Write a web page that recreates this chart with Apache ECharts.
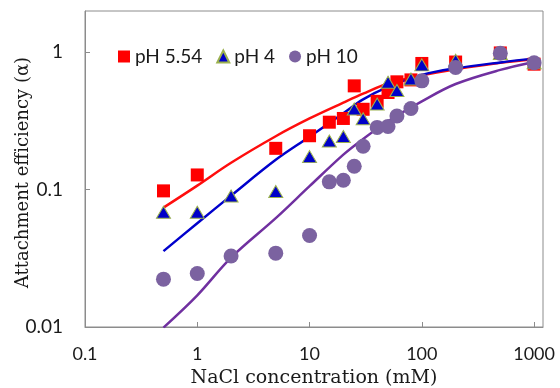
<!DOCTYPE html>
<html>
<head>
<meta charset="utf-8">
<script src="https://cdn.jsdelivr.net/npm/echarts@6/dist/echarts.min.js"></script>
<style>
html,body{margin:0;padding:0;background:#fff;}
#chart{width:560px;height:388px;}
</style>
</head>
<body>
<div id="chart"></div>
<script>
// Measured points (NaCl mM vs attachment efficiency)
const naclRed = [0.5, 1, 5, 10, 15, 20, 25, 30, 40, 50, 60, 80, 100, 200, 500, 1000];
const alphaRed = [0.098, 0.128, 0.20, 0.247, 0.31, 0.33, 0.57, 0.385, 0.44, 0.51, 0.61, 0.63, 0.83, 0.85, 0.99, 0.82];

const naclBlue = [0.5, 1, 2, 5, 10, 15, 20, 25, 30, 40, 50, 60, 80, 100, 200, 500, 1000];
const alphaBlue = [0.0685, 0.0685, 0.09, 0.097, 0.174, 0.226, 0.244, 0.387, 0.328, 0.42, 0.605, 0.528, 0.64, 0.81, 0.875, 0.98, 0.84];

const naclPurple = [0.5, 1, 2, 5, 10, 15, 20, 25, 30, 40, 50, 60, 80, 100, 200, 500, 1000];
const alphaPurple = [0.0223, 0.0245, 0.0329, 0.0345, 0.0464, 0.114, 0.117, 0.148, 0.207, 0.284, 0.289, 0.344, 0.39, 0.62, 0.775, 0.985, 0.84];

// Fitted curves
const fitX = [0.5, 1, 2, 5, 10, 20, 30, 50, 100, 200, 500, 1000];
const fitRed = [0.074, 0.107, 0.157, 0.245, 0.33, 0.43, 0.50, 0.593, 0.68, 0.752, 0.838, 0.89];
const fitBlue = [0.0357, 0.057, 0.0905, 0.165, 0.243, 0.36, 0.454, 0.56, 0.685, 0.765, 0.845, 0.90];
const fitPurple = [0.0099, 0.017, 0.032, 0.062, 0.106, 0.18, 0.234, 0.315, 0.44, 0.588, 0.745, 0.85];

const xTicks = [0.1, 1, 10, 100, 1000];
const yTicks = [0.01, 0.1, 1];
const legendNames = ['pH 5.54', 'pH 4', 'pH 10'];

const zip = (xs, ys) => xs.map((x, i) => [x, ys[i]]);

const chart = echarts.init(document.getElementById('chart'), null, {renderer: 'canvas'});
const sansFont = 'Lato, "Open Sans", sans-serif';
const serifFont = '"DejaVu Serif", "Liberation Serif", serif';

const fmt = ticks => v => {
  const t = ticks.find(k => Math.abs(Math.log10(k) - Math.log10(v)) < 1e-6);
  return t === undefined ? '' : String(t);
};

chart.setOption({
  animation: false,
  backgroundColor: '#ffffff',
  grid: {left: 85, right: 17, top: 11, bottom: 61, show: true, borderColor: '#8c8c8c', borderWidth: 1,
         containLabel: false, outerBoundsMode: 'none'},
  legend: {
    data: [
      {name: legendNames[0], icon: 'rect'},
      {name: legendNames[1], icon: 'triangle'},
      {name: legendNames[2], icon: 'circle'}
    ],
    left: 113, top: 42,
    itemWidth: 12, itemHeight: 12, itemGap: 14,
    textStyle: {fontFamily: sansFont, fontSize: 19, color: '#1a1a1a'}
  },
  xAxis: {
    type: 'log', logBase: 10, min: 0.1, max: 1200,
    name: 'NaCl concentration (mM)', nameLocation: 'middle', nameGap: 42, nameMoveOverlap: false,
    nameTextStyle: {fontFamily: serifFont, fontSize: 19, color: '#1a1a1a'},
    axisLine: {show: true, lineStyle: {color: '#8c8c8c', width: 1}},
    axisTick: {show: true, inside: true, length: 5, lineStyle: {color: '#8c8c8c'}},
    splitLine: {show: false},
    minorTick: {show: false},
    axisLabel: {
      fontFamily: sansFont, fontSize: 18, color: '#1a1a1a', margin: 18,
      showMaxLabel: false, showMinLabel: true,
      formatter: fmt(xTicks)
    }
  },
  yAxis: {
    type: 'log', logBase: 10, min: 0.01, max: 2,
    name: 'Attachment efficiency (α)', nameLocation: 'middle', nameGap: 53, nameRotate: 90, nameMoveOverlap: false,
    nameTextStyle: {fontFamily: serifFont, fontSize: 18, color: '#1a1a1a', padding: [0, 7, 0, 0]},
    axisLine: {show: true, lineStyle: {color: '#8c8c8c', width: 1}},
    axisTick: {show: true, inside: true, length: 5, lineStyle: {color: '#8c8c8c'}},
    splitLine: {show: false},
    minorTick: {show: false},
    axisLabel: {
      fontFamily: sansFont, fontSize: 19, color: '#1a1a1a', margin: 22,
      showMaxLabel: false,
      formatter: fmt(yTicks)
    }
  },
  series: [
    {name: 'fit5', type: 'line', data: zip(fitX, fitRed), smooth: 0.35, showSymbol: false, clip: true,
     lineStyle: {color: '#ff0d0d', width: 2.5}, z: 2, silent: true},
    {name: 'fit4', type: 'line', data: zip(fitX, fitBlue), smooth: 0.35, showSymbol: false, clip: true,
     lineStyle: {color: '#0000cc', width: 2.5}, z: 3, silent: true},
    {name: 'fit10', type: 'line', data: zip(fitX, fitPurple), smooth: 0.35, showSymbol: false, clip: true,
     lineStyle: {color: '#7030a0', width: 2.5}, z: 4, silent: true},
    {name: legendNames[0], type: 'scatter', data: zip(naclRed, alphaRed), symbol: 'rect', symbolSize: 13,
     itemStyle: {color: '#ff0000', opacity: 1}, z: 5},
    {name: legendNames[1], type: 'scatter', data: zip(naclBlue, alphaBlue), symbol: 'triangle', symbolSize: [14, 12],
     itemStyle: {color: '#0000c8', borderColor: '#9bb14e', borderWidth: 1, opacity: 1}, z: 6},
    {name: legendNames[2], type: 'scatter', data: zip(naclPurple, alphaPurple), symbol: 'circle', symbolSize: 15,
     itemStyle: {color: '#7b62a0', opacity: 1}, z: 7}
  ]
});
</script>
</body>
</html>
